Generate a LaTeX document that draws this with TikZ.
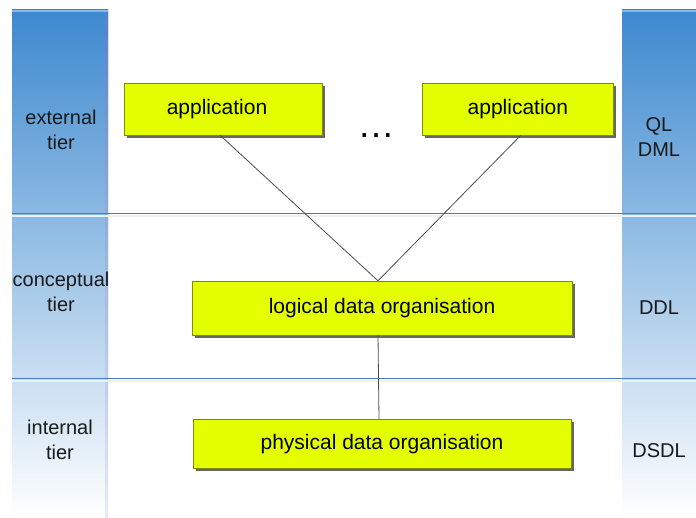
\documentclass[tikz,border=0pt]{standalone}
\usepackage{fontspec}
\setmainfont{Liberation Sans}
\usetikzlibrary{positioning,shadows}

\definecolor{tierblue}{HTML}{3D89CF}
\definecolor{tieredge}{HTML}{5A7EC6}
\definecolor{boxyellow}{HTML}{E4FF00}
\definecolor{rulerblue}{HTML}{4A7DBB}

\begin{document}
\begin{tikzpicture}[x=1pt,y=-1pt,
    layer/.style={draw=boxyellow!55!black, line width=0.4pt, fill=boxyellow,
      drop shadow={shadow xshift=3pt, shadow yshift=-3pt, fill=black!75, opacity=0.8},
      font=\fontsize{21}{24}\selectfont, inner sep=0pt, minimum height=52pt},
    tier/.style={font=\fontsize{20}{25}\selectfont, align=center, text=black!90},
    link/.style={draw=black!70, line width=0.8pt}]
    \useasboundingbox (0,0) rectangle (696,518);

    % side columns
    \shade[top color=tierblue, bottom color=white] (12,10) rectangle (108,518);
    \shade[top color=tieredge, bottom color=tieredge!15] (105,10) rectangle (108,518);
    \shade[top color=tierblue, bottom color=white] (622,10) rectangle (696,518);
    \draw[tierblue!60!white, line width=1.5pt] (12,11) -- (108,11) (622,11) -- (696,11);

    % tier borders
    \draw[black!6, line width=2pt] (12,216) -- (696,216) (12,381) -- (696,381);
    \draw[rulerblue, line width=0.9pt] (12,213) -- (696,213) (12,378) -- (696,378);

    % tier names and languages
    \node[tier] (ext) at (61,130) {external\\tier};
    \node[tier] (con) at (61,292) {conceptual\\tier};
    \node[tier] (int) at (60,440) {internal\\tier};
    \node[tier] (ql) at (659,137) {QL\\DML};
    \node[tier] (ddl) at (659,308) {DDL};
    \node[tier] (dsdl) at (659,451) {DSDL};

    % boxes
    \node[layer, minimum width=198pt] (app1) at (223,109) {application\kern12pt};
    \node[layer, minimum width=191pt, right=100pt of app1] (app2) {application};
    \node[anchor=base, font=\fontsize{37}{40}\selectfont] (dots) at (376,138) {…};
    \node[layer, minimum width=380pt, minimum height=54pt] (logic) at (382,308) {logical data organisation};
    \node[layer, minimum width=378pt, minimum height=49pt, below=84pt of logic] (phys) {physical data organisation};

    \coordinate (apex) at ([xshift=-4pt]logic.north);
    \draw[link] ([xshift=-3pt]app1.south) -- (apex) -- ([xshift=3pt]app2.south);
    \draw[link] ([xshift=-4pt]logic.south) -- ([xshift=-3pt]phys.north);
\end{tikzpicture}
\end{document}
